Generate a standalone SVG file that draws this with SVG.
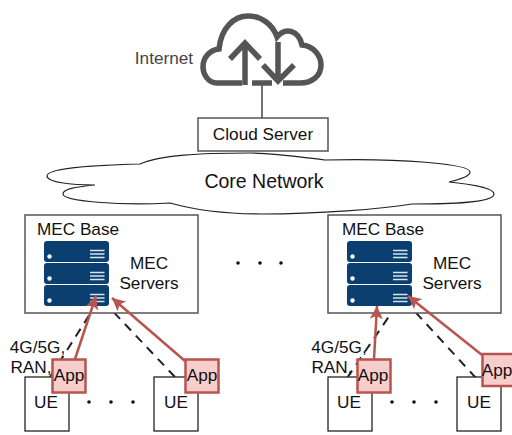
<svg xmlns="http://www.w3.org/2000/svg" width="512" height="435" viewBox="0 0 512 435">
<style>
text{font-family:"Liberation Sans",Arial,sans-serif;font-size:17.200px;fill:#111;text-anchor:middle}
.box{fill:#fff;stroke:#555;stroke-width:1.500}
.ue{fill:#fff;stroke:#222;stroke-width:1.300}
.app{fill:#f8cecc;stroke:#b85450;stroke-width:2.500}
.red{fill:none;stroke:#b85450;stroke-width:2.500;marker-end:url(#ah)}
.dash{fill:none;stroke:#222;stroke-width:2;stroke-dasharray:9 7}
.dot{fill:#111}
</style>
<defs>
<marker id="ah" markerUnits="userSpaceOnUse" markerWidth="16" markerHeight="16" refX="13" refY="6.500" orient="auto"><path d="M0 0L13 6.500L0 13L3 6.500Z" fill="#b85450"/></marker>
<g id="srv"><rect width="65" height="21" rx="3" fill="#0b3f70"/><circle cx="5.500" cy="15.500" r="2.200" fill="#fff"/><path d="M46 9.500H60.500M46 13H60.500M46 16.500H60.500" stroke="#d7e3ee" stroke-width="1.500"/></g>
</defs>
<g id="connectors">
<path d="M262 84V118" stroke="#444" stroke-width="1.500"/>
<path class="dash" d="M50 377L95 306"/>
<path class="dash" d="M175 377L106 304"/>
<path class="dash" d="M347 378L392 312"/>
<path class="dash" d="M476 378L408 304"/>
</g>
<g id="internet">
<path d="M242 83H217C208 83 203 74 203 67C203 57 210 50 219 49C221 28 234 16 248 16C262 16 273 25 277 37C286 26 299 31 302 45C313 46 321 55 321 65C321 76 312 83 300 83H283M252 83H272" fill="none" stroke="#555" stroke-width="5.500"/>
<path d="M245 85V43M230 59L245 43L260 59M278 42V81M263 65L278 81L294 65" fill="none" stroke="#555" stroke-width="5.500"/>
<text x="164" y="64" style="fill:#444">Internet</text>
</g>
<g id="cloud-server"><rect class="box" x="198" y="118" width="130" height="33"/><text x="263" y="140">Cloud Server</text></g>
<g id="core-network">
<path d="M140 164C105 165 47 167 47 176C47 182 70 185 95 185C75 187 63 189 63 194C63 201 120 206 170 203C195 210 230 214 262 214C320 214 380 209 412 204C450 204 494 203 494 194C494 188 470 184 449 182C462 179 470 176 470 172C470 164 400 158 325 160C300 157 275 153 250 153C200 153 160 155 140 164Z" fill="#fff" stroke="#222" stroke-width="1.200"/>
<text x="264" y="188" style="font-size:19.500px">Core Network</text>
</g>
<g id="mec-left">
<rect class="box" x="25" y="215" width="173" height="98"/>
<text x="78" y="235">MEC Base</text>
<use href="#srv" x="44" y="241"/><use href="#srv" x="44" y="263"/><use href="#srv" x="44" y="285"/>
<text x="149" y="269">MEC</text><text x="149" y="289">Servers</text>
</g>
<g id="mec-right">
<rect class="box" x="328" y="215" width="173" height="98"/>
<text x="383" y="235">MEC Base</text>
<use href="#srv" x="347" y="241"/><use href="#srv" x="347" y="263"/><use href="#srv" x="347" y="285"/>
<text x="452" y="269">MEC</text><text x="452" y="289">Servers</text>
</g>
<g id="dots"><circle class="dot" cx="238" cy="263" r="1.800"/><circle class="dot" cx="260" cy="263" r="1.800"/><circle class="dot" cx="281" cy="263" r="1.800"/>
<circle class="dot" cx="89" cy="402" r="1.800"/><circle class="dot" cx="111" cy="402" r="1.800"/><circle class="dot" cx="133" cy="402" r="1.800"/>
<circle class="dot" cx="392" cy="402" r="1.800"/><circle class="dot" cx="414" cy="402" r="1.800"/><circle class="dot" cx="436" cy="402" r="1.800"/></g>
<g id="ran-left"><text x="37.500" y="353">4G/5G,</text><text x="31" y="373">RAN,</text></g>
<g id="ran-right"><text x="339" y="353">4G/5G,</text><text x="332" y="373">RAN,</text></g>
<g id="ue1"><rect class="ue" x="25" y="377" width="44" height="54"/><text x="46" y="408">UE</text></g>
<g id="ue2"><rect class="ue" x="154" y="377" width="44" height="54"/><text x="176" y="408">UE</text></g>
<g id="ue3"><rect class="ue" x="328" y="377" width="44" height="54"/><text x="349" y="408">UE</text></g>
<g id="ue4"><rect class="ue" x="457" y="377" width="44" height="54"/><text x="479" y="408">UE</text></g>
<g id="arrows">
<path class="red" d="M75 359L96 296"/>
<path class="red" d="M185 361L112 298"/>
<path class="red" d="M374 359L377 306"/>
<path class="red" d="M482 355L408 296"/>
</g>
<g id="app1"><rect class="app" x="52.500" y="359.500" width="33" height="33"/><text x="69" y="381">App</text></g>
<g id="app2"><rect class="app" x="185.500" y="359.500" width="33" height="33"/><text x="202" y="381">App</text></g>
<g id="app3"><rect class="app" x="357.500" y="359.500" width="33" height="33"/><text x="373" y="381">App</text></g>
<g id="app4"><rect class="app" x="482.500" y="354" width="33" height="32"/><text x="497" y="376">App</text></g>
</svg>
